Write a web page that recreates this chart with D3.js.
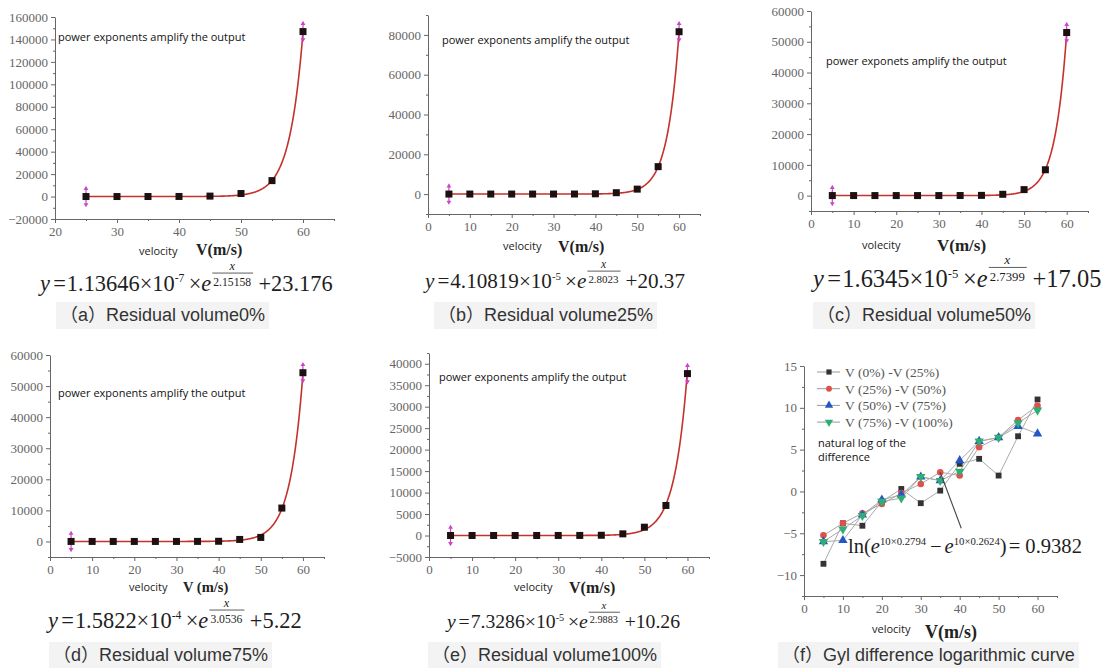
<!DOCTYPE html>
<html>
<head>
<meta charset="utf-8">
<script src="https://cdn.jsdelivr.net/npm/d3@7"></script>
<style>
body{margin:0;background:#fff}
svg text{font-family:"Liberation Serif","Times New Roman",serif}
</style>
</head>
<body>
<div id="fig"></div>
<script>
// velocidades (m/s)
var velA=[25,30,35,40,45,50,55,60];
var velB=[5,10,15,20,25,30,35,40,45,50,55,60];
// valores medidos de cada panel
var powA=[20,25,40,80,400,2700,14200,147000];
var powB=[20,20,20,20,20,25,40,150,700,2500,13800,81600];
var powC=[15,15,15,15,15,20,30,80,430,1950,8400,53000];
var powD=[5,5,5,5,5,10,20,60,650,1300,10750,54300];
var powE=[10,10,10,10,10,15,20,60,390,1940,7000,37700];
// parametros del ajuste  y = a*10^p * e^(x/b) + c
var fitCoef=["1.13646","4.10819","1.6345","1.5822","7.3286"];
var fitPow=["-7","-5","-5","-4","-5"];
var fitDiv=["2.15158","2.8023","2.7399","3.0536","2.9883"];
var fitAdd=["23.176","20.37","17.05","5.22","10.26"];
// diferencias logaritmicas (panel f)
var difA=[-8.65,-3.8,-4.1,-1.2,0.3,-1.4,0.1,3.3,3.9,1.9,6.6,11.0];
var difB=[-5.25,-3.8,-2.6,-1.5,-0.2,0.9,2.3,1.9,5.3,6.45,8.55,10.25];
var difC=[-6.0,-5.85,-2.8,-1.0,-0.4,1.75,1.3,3.7,6.0,6.45,7.8,6.9];
var difD=[-6.0,-4.5,-2.9,-1.2,-0.8,1.75,1.3,2.4,6.0,6.45,8.2,9.7];
var difNames=["V (0%) -V (25%)","V (25%) -V (50%)","V (50%) -V (75%)","V (75%) -V (100%)"];
// ticks
var xTicksA=[20,30,40,50,60];
var xTicks=[0,10,20,30,40,50,60];
var yTicksA=[-20000,0,20000,40000,60000,80000,100000,120000,140000,160000];
var yTicksB=[0,20000,40000,60000,80000];
var yTicksC=[0,10000,20000,30000,40000,50000,60000];
var yTicksE=[-5000,0,5000,10000,15000,20000,25000,30000,35000,40000];
var yTicksF=[-10,-5,0,5,10,15];
// textos
var captions=["（a）Residual volume0%","（b）Residual volume25%","（c）Residual volume50%","（d）Residual volume75%","（e）Residual volume100%","（f）Gyl difference logarithmic curve"];
var notes=["power exponents amplify the output","power exponents amplify the output","power exponets amplify the output","power exponents amplify the output","power exponents amplify the output"];
var xNames=["velocity","velocity","volecity","velocity","velocity","velocity"];
var xUnits=["V(m/s)","V(m/s)","V(m/s)","V (m/s)","V(m/s)","V(m/s)"];
var lnA="0.2794", lnB="0.2624", lnVal="0.9382";

var svg=d3.select("#fig").append("svg").attr("width",1105).attr("height",668);

var AX="#666", LBL="#666", SERIF="'Liberation Serif','Times New Roman',serif";

// posiciones de cada panel
var cfgs=[
 {vel:velA,pow:powA,xd:[20,65],xr:[55,334],yd:[-20000,160000],yr:[219,17],xt:xTicksA,yt:yTicksA,xm:5,ym:10000,
  note:[58,41],name:[139,255],unit:[196,255,16],form:[40,291,293],cap:[60,321]},
 {vel:velB,pow:powB,xd:[0,65],xr:[428,700],yd:[-10000,90000],yr:[214,15],xt:xTicks,yt:yTicksB,xm:5,ym:10000,
  note:[442,44],name:[503,250],unit:[558,252,16],form:[425,288,260],cap:[438,321]},
 {vel:velB,pow:powC,xd:[0,65],xr:[811,1088],yd:[-5000,60000],yr:[211,11],xt:xTicks,yt:yTicksC,xm:5,ym:5000,
  note:[826,65],name:[862,249],unit:[937,251,17],form:[813,287,289],cap:[817,321]},
 {vel:velB,pow:powD,xd:[0,65],xr:[50,324],yd:[-5000,60000],yr:[557,355],xt:xTicks,yt:yTicksC,xm:5,ym:5000,
  note:[58,397],name:[129,591],unit:[183,592,14.5],form:[48,628,254],cap:[53,661]},
 {vel:velB,pow:powE,xd:[0,65],xr:[429,709],yd:[-5000,42500],yr:[557,353],xt:xTicks,yt:yTicksE,xm:5,ym:2500,
  note:[439,381],name:[514,591],unit:[569,593,16],form:[447,628,233],cap:[432,661]}
];

function ejes(g,x,y,c){
	var fmt=d3.format("d");
	var minX=d3.range(c.xd[0],c.xd[1]+0.01,c.xm).filter(v=>c.xt.indexOf(v)<0);
	var minY=d3.range(Math.ceil(c.yd[0]/c.ym)*c.ym,c.yd[1]+0.01,c.ym).filter(v=>c.yt.indexOf(v)<0);
	g.append("g").attr("transform","translate(0,"+c.yr[0]+")")
		.call(d3.axisBottom(x).tickValues(c.xt).tickSize(4).tickSizeOuter(0).tickPadding(4).tickFormat(fmt))
		.attr("font-family",SERIF).attr("font-size",13);
	g.append("g").attr("transform","translate(0,"+c.yr[0]+")")
		.call(d3.axisBottom(x).tickValues(minX).tickSize(2).tickFormat(""))
		.select(".domain").remove();
	g.append("g").attr("transform","translate("+c.xr[0]+",0)")
		.call(d3.axisLeft(y).tickValues(c.yt).tickSize(4).tickSizeOuter(0).tickPadding(3).tickFormat(fmt))
		.attr("font-family",SERIF).attr("font-size",13);
	g.append("g").attr("transform","translate("+c.xr[0]+",0)")
		.call(d3.axisLeft(y).tickValues(minY).tickSize(2).tickFormat(""))
		.select(".domain").remove();
	g.selectAll(".domain,.tick line").attr("stroke",AX);
	g.selectAll(".tick text").attr("fill",LBL).style("font-family",SERIF);
}

// formula con superindices y fraccion
function formula(g,x0,base,size,parts,target){
	var fg=g.append("g").attr("fill","#1e1e1e");
	function build(s){
		fg.selectAll("*").remove();
		var cx=x0;
		parts.forEach(function(p){
			if(p.gap){cx+=p.gap*s/21;return}
			if(p.frac){
				var ds=s*0.52;
				var t=fg.append("text").attr("x",cx+1).attr("y",base-s*0.24).style("font-size",ds+"px").text(p.frac);
				var w=t.node().getComputedTextLength();
				var ly=base-s*0.8;
				fg.append("line").attr("x1",cx).attr("x2",cx+w+3).attr("y1",ly).attr("y2",ly)
					.attr("stroke","#333").attr("stroke-width",0.8);
				fg.append("text").attr("x",cx+1+w/2).attr("y",ly-3).attr("text-anchor","middle")
					.style("font-size",(ds*1.05)+"px").style("font-style","italic").text("x");
				cx+=w+3;
				return;
			}
			var t=fg.append("text").attr("x",cx).attr("y",base+(p.sup?-s*0.38:0))
				.style("font-size",(p.sup?s*0.52:s)+"px")
				.style("font-style",p.it?"italic":"normal").text(p.t);
			cx+=t.node().getComputedTextLength();
		});
		return cx-x0;
	}
	var w=build(size);
	if(target) build(size*target/w);
}

function caption(txt,x0,base){
	var g=svg.append("g");
	var r=g.append("rect").attr("fill","#f3f3f3");
	var t=g.append("text").attr("x",x0).attr("y",base).attr("fill","#333")
		.style("font-family","'Liberation Sans',Arial,'Noto Sans CJK SC',sans-serif")
		.style("font-size","18px").text(txt);
	var w=t.node().getComputedTextLength();
	r.attr("x",x0-4).attr("y",base-19).attr("width",w+8).attr("height",27);
}

function etiquetas(g,c,i){
	g.append("text").attr("x",c.name[0]).attr("y",c.name[1]).attr("fill","#222")
		.style("font-family","'Open Sans','Noto Sans',sans-serif").style("font-size","11px").text(xNames[i]);
	g.append("text").attr("x",c.unit[0]).attr("y",c.unit[1]).attr("fill","#222")
		.style("font-size",c.unit[2]+"px").style("font-weight","bold").text(xUnits[i]);
	caption(captions[i],c.cap[0],c.cap[1]);
}

cfgs.forEach(function(c,i){
	var g=svg.append("g");
	var x=d3.scaleLinear().domain(c.xd).range(c.xr);
	var y=d3.scaleLinear().domain(c.yd).range(c.yr);
	ejes(g,x,y,c);

	// curva ajustada segun la ecuacion del panel
	var a=+fitCoef[i]*Math.pow(10,+fitPow[i]), b=+fitDiv[i], k=+fitAdd[i];
	var v0=c.vel[0], v1=c.vel[c.vel.length-1];
	var curva=d3.range(v0,v1+0.001,0.1).map(v=>({v:v,p:a*Math.exp(v/b)+k}));
	g.append("path").datum(curva)
		.attr("d",d3.line().x(d=>x(d.v)).y(d=>y(d.p)))
		.attr("fill","none").attr("stroke","#c4322c").attr("stroke-width",1.6);

	var data=c.vel.map((v,j)=>({v:v,p:c.pow[j]}));
	// barras de error en extremos
	var ext=[data[0],data[data.length-1]];
	ext.forEach(function(d){
		var px=x(d.v), py=y(d.p);
		g.append("line").attr("x1",px).attr("x2",px).attr("y1",py-8).attr("y2",py+8)
			.attr("stroke","#cc44cc").attr("stroke-width",1.2);
		g.append("path").attr("d",d3.symbol(d3.symbolTriangle,10)())
			.attr("transform","translate("+px+","+(py-8)+")").attr("fill","#cc44cc");
		g.append("path").attr("d",d3.symbol(d3.symbolTriangle,10)())
			.attr("transform","translate("+px+","+(py+8)+") rotate(180)").attr("fill","#cc44cc");
	});
	g.selectAll(".pt").data(data).enter().append("rect")
		.attr("x",d=>x(d.v)-3.5).attr("y",d=>y(d.p)-3.5)
		.attr("width",7).attr("height",7).attr("fill","#1c1010");

	g.append("text").attr("x",c.note[0]).attr("y",c.note[1]).attr("fill","#111")
		.style("font-family","'Open Sans','Noto Sans',sans-serif").style("font-size","11px").text(notes[i]);
	etiquetas(g,c,i);

	formula(g,c.form[0],c.form[1],21,[
		{t:"y",it:1},{gap:3},{t:"=",},{gap:1},{t:fitCoef[i]+"×10"},{t:fitPow[i],sup:1},{gap:4},
		{t:"×"},{t:"e",it:1},{gap:1},{frac:fitDiv[i]},{gap:5},{t:"+"+fitAdd[i]}
	],c.form[2]);
});

// panel f: curvas de diferencia logaritmica
(function(){
	var c={xd:[0,65],xr:[804,1057],yd:[-12.5,15],yr:[596,366],xt:xTicks,yt:yTicksF,xm:5,ym:2.5,
		name:[872,633],unit:[925,638,18],cap:[782,661]};
	var g=svg.append("g");
	var x=d3.scaleLinear().domain(c.xd).range(c.xr);
	var y=d3.scaleLinear().domain(c.yd).range(c.yr);
	ejes(g,x,y,c);

	var series=[difA,difB,difC,difD];
	var colores=["#333333","#e0504c","#2356c8","#2fae74"];
	var simbolos=[d3.symbolSquare,d3.symbolCircle,d3.symbolTriangle,d3.symbolTriangle];
	var tam=[34,34,38,38];
	var giro=[0,0,0,180];
	var linea=d3.line().x(d=>x(d.v)).y(d=>y(d.p));

	series.forEach(function(s,k){
		var data=velB.map((v,j)=>({v:v,p:s[j]}));
		g.append("path").datum(data).attr("d",linea)
			.attr("fill","none").attr("stroke","#aaa").attr("stroke-width",1);
	});
	series.forEach(function(s,k){
		var data=velB.map((v,j)=>({v:v,p:s[j]}));
		g.selectAll(".m"+k).data(data).enter().append("path")
			.attr("d",d3.symbol(simbolos[k],tam[k]))
			.attr("transform",d=>"translate("+x(d.v)+","+y(d.p)+") rotate("+giro[k]+")")
			.attr("fill",colores[k]);
	});

	// leyenda
	difNames.forEach(function(n,k){
		var ly=372+k*16.7;
		g.append("line").attr("x1",817).attr("x2",840).attr("y1",ly).attr("y2",ly)
			.attr("stroke","#999").attr("stroke-width",1);
		g.append("path").attr("d",d3.symbol(simbolos[k],tam[k]*0.8))
			.attr("transform","translate(829,"+ly+") rotate("+giro[k]+")").attr("fill",colores[k]);
		g.append("text").attr("x",845).attr("y",ly+5).attr("fill","#555")
			.style("font-size","13.5px").text(n);
	});

	g.append("text").attr("x",818).attr("y",447).attr("fill","#111")
		.style("font-family","'Open Sans','Noto Sans',sans-serif").style("font-size","11px").text("natural log of the");
	g.append("text").attr("x",818).attr("y",461).attr("fill","#111")
		.style("font-family","'Open Sans','Noto Sans',sans-serif").style("font-size","11px").text("difference");

	// flecha de anotacion desde el punto de 35 m/s
	var ini={v:35,p:difB[6]}, fin={v:40.4,p:-4.4};
	g.append("line").attr("x1",x(ini.v)).attr("y1",y(ini.p)).attr("x2",x(fin.v)).attr("y2",y(fin.p))
		.attr("stroke","#444").attr("stroke-width",1.1);

	formula(g,848,553,24,[
		{t:"ln("},{t:"e",it:1},{t:"10×"+lnA,sup:1},{gap:4},{t:"−"},{gap:3},
		{t:"e",it:1},{t:"10×"+lnB,sup:1},{t:")"},{gap:2},{t:"= "+lnVal}
	],234);

	etiquetas(g,c,5);
})();
</script>
</body>
</html>
